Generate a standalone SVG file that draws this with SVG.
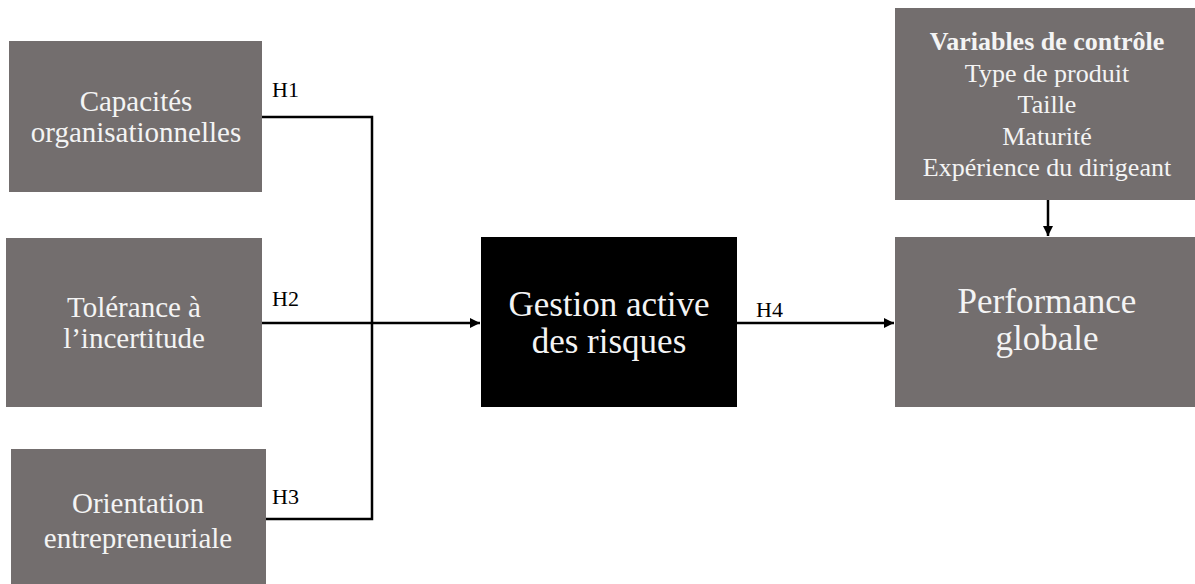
<svg xmlns="http://www.w3.org/2000/svg" width="1195" height="584" viewBox="0 0 1195 584">
<defs>
<style>
.box{fill:#736e6e}
.dark{fill:#000}
.t{font-family:"Liberation Serif","Times New Roman",serif;fill:#f4f4f4;text-anchor:middle}
.m{font-size:29px}
.l{font-size:35px}
.s{font-size:26px}
.b{font-weight:bold}
.h{font-family:"Liberation Serif","Times New Roman",serif;font-size:22px;fill:#000}
.c{fill:none;stroke:#000;stroke-width:2.5}
</style>
<marker id="arr" viewBox="0 0 10 10" refX="10" refY="5" markerWidth="4" markerHeight="4" orient="auto" markerUnits="strokeWidth">
<path d="M0,0 L10,5 L0,10 z" fill="#000"/>
</marker>
</defs>
<rect width="1195" height="584" fill="#fff"/>
<g id="connectors">
<polyline class="c" points="262,117 372,117 372,519 265,519"/>
<line class="c" x1="262" y1="323" x2="480" y2="323" marker-end="url(#arr)"/>
<line class="c" x1="737" y1="323" x2="894" y2="323" marker-end="url(#arr)"/>
<line class="c" x1="1048" y1="200" x2="1048" y2="236" marker-end="url(#arr)"/>
<text class="h" x="272" y="97">H1</text>
<text class="h" x="272" y="306">H2</text>
<text class="h" x="272" y="504">H3</text>
<text class="h" x="756" y="317">H4</text>
</g>
<g id="node-capacites">
<rect class="box" x="9" y="41" width="253" height="151"/>
<text class="t m" x="136" y="111">Capacités</text>
<text class="t m" x="136" y="142">organisationnelles</text>
</g>
<g id="node-tolerance">
<rect class="box" x="6" y="238" width="256" height="169"/>
<text class="t m" x="134" y="317">Tolérance à</text>
<text class="t m" x="134" y="348">l’incertitude</text>
</g>
<g id="node-orientation">
<rect class="box" x="11" y="449" width="255" height="140"/>
<text class="t m" x="138" y="513">Orientation</text>
<text class="t m" x="138" y="548">entrepreneuriale</text>
</g>
<g id="node-gestion">
<rect class="dark" x="481" y="237" width="256" height="170"/>
<text class="t l" x="609" y="316">Gestion active</text>
<text class="t l" x="609" y="353">des risques</text>
</g>
<g id="node-performance">
<rect class="box" x="895" y="237" width="305" height="170"/>
<text class="t l" x="1047" y="313">Performance</text>
<text class="t l" x="1047" y="350">globale</text>
</g>
<g id="node-controle">
<rect class="box" x="895" y="8" width="305" height="192"/>
<text class="t s b" x="1047" y="50">Variables de contrôle</text>
<text class="t s" x="1047" y="81.5">Type de produit</text>
<text class="t s" x="1047" y="113">Taille</text>
<text class="t s" x="1047" y="144.5">Maturité</text>
<text class="t s" x="1047" y="176">Expérience du dirigeant</text>
</g>
</svg>
